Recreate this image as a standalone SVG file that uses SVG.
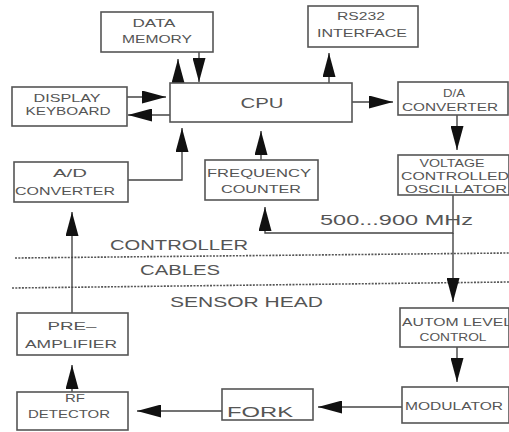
<svg xmlns="http://www.w3.org/2000/svg" width="509" height="432" viewBox="0 0 509 432">
<style>
.box{fill:#fff;stroke:#555;stroke-width:1.6}
.t{font-family:"Liberation Sans",Arial,sans-serif;font-size:11.5px;fill:#555;text-anchor:middle}
.tl{font-family:"Liberation Sans",Arial,sans-serif;font-size:11.5px;fill:#555}
.big{font-size:15px}
.c{fill:none;stroke:#444;stroke-width:1.4;marker-end:url(#ah)}
.dot{fill:none;stroke:#555;stroke-width:1.6;stroke-dasharray:2 1.3}
</style>
<defs>
<marker id="ah" markerUnits="userSpaceOnUse" markerWidth="24" markerHeight="13" refX="24" refY="6.5" orient="auto">
<path d="M0,0 L24,6.5 L0,13 Z" fill="#111"/>
</marker>
</defs>
<rect width="509" height="432" fill="#fff"/>
<g id="separators">
<path class="dot" d="M15,258 L509,253"/>
<path class="dot" d="M12,288 L509,282"/>
<text class="tl big" x="110" y="250" textLength="138" lengthAdjust="spacingAndGlyphs">CONTROLLER</text>
<text class="tl big" x="140" y="275" textLength="80" lengthAdjust="spacingAndGlyphs">CABLES</text>
<text class="tl big" x="170" y="307" textLength="153" lengthAdjust="spacingAndGlyphs">SENSOR HEAD</text>
</g>
<g id="connectors">
<path class="c" d="M128,180 H182 V128"/>
<path class="c" d="M261,160 V131"/>
<path class="c" d="M178,83 V59"/>
<path class="c" d="M199,52 V82"/>
<path class="c" d="M329,83 V53"/>
<path class="c" d="M127,97 H166"/>
<path class="c" d="M170,115 H128"/>
<path class="c" d="M352,102 H393"/>
<path class="c" d="M457,115 V150"/>
<path class="c" d="M453,195 V233 H265 V207"/>
<path class="c" d="M453,233 V302"/>
<path class="c" d="M457,347 V382"/>
<path class="c" d="M402,407 H318"/>
<path class="c" d="M222,411 H137"/>
<path class="c" d="M72,392 V365"/>
<path class="c" d="M72,313 V212"/>
<text class="tl big" x="320" y="225" textLength="153" lengthAdjust="spacingAndGlyphs">500...900 MHz</text>
</g>
<g id="datamem"><rect class="box" x="101" y="12" width="112" height="40"/>
<text class="t" x="154" y="27" textLength="43" lengthAdjust="spacingAndGlyphs">DATA</text>
<text class="t" x="157" y="43" textLength="70" lengthAdjust="spacingAndGlyphs">MEMORY</text></g>
<g id="rs232"><rect class="box" x="308" y="6" width="110" height="41"/>
<text class="t" x="361" y="20" textLength="48" lengthAdjust="spacingAndGlyphs">RS232</text>
<text class="t" x="362" y="37" textLength="90" lengthAdjust="spacingAndGlyphs">INTERFACE</text></g>
<g id="display"><rect class="box" x="12" y="87" width="115" height="39"/>
<text class="t" x="67" y="102" textLength="67" lengthAdjust="spacingAndGlyphs">DISPLAY</text>
<text class="t" x="68" y="115" textLength="85" lengthAdjust="spacingAndGlyphs">KEYBOARD</text></g>
<g id="cpu"><rect class="box" x="170" y="83" width="182" height="39"/>
<text class="t big" x="262" y="108" textLength="43" lengthAdjust="spacingAndGlyphs">CPU</text></g>
<g id="da"><rect class="box" x="398" y="82" width="110" height="33"/>
<text class="t" x="454" y="97" textLength="22" lengthAdjust="spacingAndGlyphs">D/A</text>
<text class="t" x="450" y="111" textLength="96" lengthAdjust="spacingAndGlyphs">CONVERTER</text></g>
<g id="ad"><rect class="box" x="14" y="162" width="114" height="40"/>
<text class="t" x="70" y="177" textLength="34" lengthAdjust="spacingAndGlyphs">A/D</text>
<text class="t" x="65" y="195" textLength="100" lengthAdjust="spacingAndGlyphs">CONVERTER</text></g>
<g id="freq"><rect class="box" x="205" y="160" width="113" height="40"/>
<text class="t" x="259" y="177" textLength="104" lengthAdjust="spacingAndGlyphs">FREQUENCY</text>
<text class="t" x="261" y="193" textLength="80" lengthAdjust="spacingAndGlyphs">COUNTER</text></g>
<g id="vco"><rect class="box" x="398" y="155" width="111" height="40"/>
<text class="t" x="452" y="167" textLength="65" lengthAdjust="spacingAndGlyphs" style="font-size:10.5px">VOLTAGE</text>
<text class="t" x="455" y="180" textLength="108" lengthAdjust="spacingAndGlyphs" style="font-size:10.5px">CONTROLLED</text>
<text class="t" x="456" y="193" textLength="102" lengthAdjust="spacingAndGlyphs" style="font-size:10.5px">OSCILLATOR</text></g>
<g id="preamp"><rect class="box" x="17" y="313" width="111" height="42"/>
<text class="t" x="72" y="330" textLength="49" lengthAdjust="spacingAndGlyphs">PRE–</text>
<text class="t" x="71" y="348" textLength="92" lengthAdjust="spacingAndGlyphs">AMPLIFIER</text></g>
<g id="alc"><rect class="box" x="400" y="308" width="109" height="39"/>
<text class="tl" x="402" y="326" textLength="110" lengthAdjust="spacingAndGlyphs">AUTOM LEVEL</text>
<text class="t" x="453" y="341" textLength="67" lengthAdjust="spacingAndGlyphs">CONTROL</text></g>
<g id="rf"><rect class="box" x="17" y="392" width="111" height="38"/>
<text class="t" x="75" y="402" textLength="20" lengthAdjust="spacingAndGlyphs">RF</text>
<text class="t" x="69" y="418" textLength="82" lengthAdjust="spacingAndGlyphs">DETECTOR</text></g>
<g id="fork"><rect class="box" x="222" y="389" width="91" height="31"/>
<text class="t big" x="260" y="417" textLength="66" lengthAdjust="spacingAndGlyphs">FORK</text></g>
<g id="mod"><rect class="box" x="402" y="387" width="107" height="36"/>
<text class="t" x="454" y="410" textLength="98" lengthAdjust="spacingAndGlyphs">MODULATOR</text></g>
</svg>
